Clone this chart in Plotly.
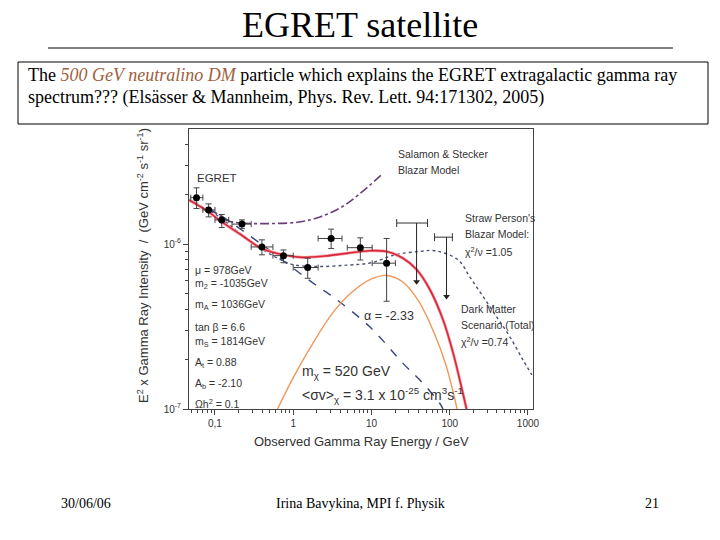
import plotly.graph_objects as go

# ---------------- data ----------------
egret_e = [0.058, 0.083, 0.122, 0.221, 0.398, 0.75, 1.53, 3.05, 7.2, 15.6]
egret_f = [1.91e-6, 1.61e-6, 1.40e-6, 1.32e-6, 0.96e-6, 0.85e-6, 0.72e-6, 1.08e-6, 0.95e-6, 0.765e-6]
egret_f_hi = [2.19e-6, 1.75e-6, 1.51e-6, 1.40e-6, 1.06e-6, 0.92e-6, 0.82e-6, 1.23e-6, 1.09e-6, 1.08e-6]
egret_f_lo = [1.64e-6, 1.46e-6, 1.26e-6, 1.24e-6, 0.86e-6, 0.77e-6, 0.62e-6, 0.94e-6, 0.80e-6, 0.45e-6]
egret_e_lo = [0.049, 0.070, 0.100, 0.165, 0.29, 0.55, 1.0, 2.08, 4.9, 10.2]
egret_e_hi = [0.070, 0.100, 0.150, 0.29, 0.55, 1.0, 2.08, 4.2, 10.2, 20.2]

ul_e = [37.7, 91.0]
ul_top = [1.34e-6, 1.10e-6]
ul_bottom = [0.59e-6, 0.48e-6]
ul_e_lo = [21.0, 64.0]
ul_e_hi = [52.0, 108.0]

total_e = [0.047, 0.082, 0.122, 0.22, 0.394, 0.745, 1.28, 2.54, 5.0, 9.5, 15.6, 25.3, 37.7, 55.7, 82.5, 110.6, 141, 164]
total_f = [1.84e-6, 1.57e-6, 1.36e-6, 1.13e-6, 0.94e-6, 0.86e-6, 0.83e-6, 0.845e-6, 0.88e-6, 0.91e-6, 0.90e-6,
           0.82e-6, 0.70e-6, 0.53e-6, 0.345e-6, 0.218e-6, 0.136e-6, 0.10e-6]

dm_e = [0.63, 1.0, 1.78, 3.16, 5.6, 10.0, 15.8, 25.0, 40.0, 63.0, 89.0, 115.0, 124.0]
dm_f = [0.10e-6, 0.155e-6, 0.25e-6, 0.38e-6, 0.51e-6, 0.615e-6, 0.645e-6, 0.59e-6, 0.45e-6, 0.29e-6,
        0.186e-6, 0.117e-6, 0.10e-6]

bg_e = [0.047, 0.1, 0.4, 1.05, 2.09, 3.0, 9.5, 25.3, 45.5, 74.8, 82]
bg_f = [1.85e-6, 1.56e-6, 0.99e-6, 0.70e-6, 0.55e-6, 0.49e-6, 0.315e-6, 0.189e-6, 0.143e-6, 0.108e-6, 0.10e-6]

ss_e = [0.085, 0.105, 0.15, 0.22, 0.5, 1.2, 2.2, 3.95, 6.76, 14.1]
ss_f = [1.62e-6, 1.53e-6, 1.38e-6, 1.34e-6, 1.33e-6, 1.36e-6, 1.46e-6, 1.65e-6, 1.98e-6, 2.68e-6]

sp_e = [0.047, 0.1, 0.2, 0.4, 0.7, 1.0, 2.0, 5.0, 10, 20, 40, 65, 128, 181, 267, 396, 586, 865, 1120]
sp_f = [1.84e-6, 1.52e-6, 1.18e-6, 0.93e-6, 0.80e-6, 0.75e-6, 0.73e-6, 0.745e-6, 0.77e-6, 0.86e-6, 0.90e-6,
        0.91e-6, 0.80e-6, 0.63e-6, 0.48e-6, 0.363e-6, 0.274e-6, 0.198e-6, 0.161e-6]

x_tickvals = [0.1, 1, 10, 100, 1000]
x_ticktext = ["0,1", "1", "10", "100", "1000"]
y_tickvals = [1e-7, 1e-6]
y_ticktext = ["10<sup>-7</sup>", "10<sup>-6</sup>"]

params = ["\u03bc = 978GeV", "m<sub>2</sub> = -1035GeV", "m<sub>A</sub> = 1036GeV", "tan \u03b2 = 6.6",
          "m<sub>S</sub> = 1814GeV", "A<sub>t</sub> = 0.88", "A<sub>b</sub> = -2.10", "\u03a9h<sup>2</sup> = 0.1"]

# ---------------- layout geometry ----------------
W, H = 720, 540
L, R, T, B = 189, 187, 129, 131
PW, PH = W - L - R, H - T - B


def px(x):
    return (x - L) / PW


def py(y):
    return (H - B - y) / PH


SANS = "Arial, Liberation Sans, sans-serif"
SERIF = "Times New Roman, Liberation Serif, serif"
TXT = "#333333"

fig = go.Figure()

# Salamon & Stecker blazar model
fig.add_trace(go.Scatter(x=ss_e, y=ss_f, mode="lines", line=dict(color="#6b3f7a", width=1.6, dash="dashdot",
                                                                  shape="spline")))
# Straw person's blazar model
fig.add_trace(go.Scatter(x=sp_e, y=sp_f, mode="lines", line=dict(color="#4a5278", width=1.4, dash="dot",
                                                                  shape="spline")))
# background power law
fig.add_trace(go.Scatter(x=bg_e, y=bg_f, mode="lines", line=dict(color="#39467e", width=1.4, dash="dash",
                                                                  shape="spline")))
# DM signal
fig.add_trace(go.Scatter(x=dm_e, y=dm_f, mode="lines", line=dict(color="#f0975a", width=1.4, shape="spline")))
# total
fig.add_trace(go.Scatter(x=total_e, y=total_f, mode="lines", line=dict(color="#f4a0a8", width=3.0, shape="spline")))
fig.add_trace(go.Scatter(x=total_e, y=total_f, mode="lines", line=dict(color="#d8283c", width=1.6, shape="spline")))

# EGRET data
fig.add_trace(go.Scatter(
    x=egret_e, y=egret_f, mode="markers",
    marker=dict(color="black", size=7),
    error_y=dict(type="data", symmetric=False,
                 array=[h - f for h, f in zip(egret_f_hi, egret_f)],
                 arrayminus=[f - l for f, l in zip(egret_f, egret_f_lo)],
                 color="#444444", thickness=1, width=3),
    error_x=dict(type="data", symmetric=False,
                 array=[h - e for h, e in zip(egret_e_hi, egret_e)],
                 arrayminus=[e - l for e, l in zip(egret_e, egret_e_lo)],
                 color="#444444", thickness=1, width=3),
))

# upper limits
fig.add_trace(go.Scatter(
    x=ul_e, y=ul_top, mode="markers", marker=dict(size=1, color="rgba(0,0,0,0)"),
    error_x=dict(type="data", symmetric=False,
                 array=[h - e for h, e in zip(ul_e_hi, ul_e)],
                 arrayminus=[e - l for e, l in zip(ul_e, ul_e_lo)],
                 color="#333333", thickness=1, width=4),
))
for e, t, b in zip(ul_e, ul_top, ul_bottom):
    fig.add_trace(go.Scatter(x=[e, e], y=[t, b], mode="lines", line=dict(color="#222222", width=1)))
fig.add_trace(go.Scatter(x=ul_e, y=ul_bottom, mode="markers",
                         marker=dict(symbol="triangle-down", size=6, color="#222222")))

annotations = []


def ann(text, x, y, size, family=SANS, color=TXT, xanchor="left", yanchor="middle", angle=0):
    annotations.append(dict(text=text, x=px(x), y=py(y), xref="paper", yref="paper", showarrow=False,
                            xanchor=xanchor, yanchor=yanchor, textangle=angle,
                            font=dict(family=family, size=size, color=color)))


# chart texts
ann("Salamon &amp; Stecker", 396, 154, 10.5)
ann("Blazar Model", 396, 170, 10.5)
ann("EGRET", 195, 178, 11.5)
ann("Straw Person's", 463, 218, 10.5)
ann("Blazar Model:", 463, 234, 10.5)
ann("\u03c7<sup>2</sup>/\u03bd =1.05", 463, 251, 10.5)
ann("Dark Matter", 459, 309, 10.5)
ann("Scenario (Total)", 459, 325, 10.5)
ann("\u03c7<sup>2</sup>/\u03bd =0.74", 459, 341, 10.5)
ann("\u03b1 = -2.33", 362, 316, 12.5)
ann("m<sub>\u03c7</sub> = 520 GeV", 300, 372, 14)
ann("&lt;\u03c3v&gt;<sub>\u03c7</sub> = 3.1 x 10<sup>-25</sup> cm<sup>3</sup>s<sup>-1</sup>", 300, 395, 14)
param_y = [269.5, 284, 305, 326.5, 342, 363, 384, 403]
for t, yy in zip(params, param_y):
    ann(t, 193, yy, 10.5)

# axis titles
ann("Observed Gamma Ray Energy / GeV", 361, 441, 13, xanchor="center")
ann("E<sup>2</sup> x Gamma Ray Intensity  /  (GeV cm<sup>-2</sup> s<sup>-1</sup> sr<sup>-1</sup>)", 143, 266, 13,
    xanchor="center", angle=-90)

# slide texts
ann("EGRET satellite", 360, 25, 36, family=SERIF, color="black", xanchor="center")
ann("The <i><span style='color:#a0603c'>500 GeV neutralino DM</span></i> particle which explains the EGRET "
    "extragalactic gamma ray", 26, 75, 18, family=SERIF, color="black")
ann("spectrum??? (Els\u00e4sser &amp; Mannheim, Phys. Rev. Lett. 94:171302, 2005)", 26, 98, 18, family=SERIF,
    color="black")
ann("30/06/06", 86, 503, 14, family=SERIF, color="black", xanchor="center")
ann("Irina Bavykina, MPI f. Physik", 360, 503, 14, family=SERIF, color="black", xanchor="center")
ann("21", 652, 503, 14, family=SERIF, color="black", xanchor="center")

shapes = [
    dict(type="line", xref="paper", yref="paper", x0=px(48), x1=px(673), y0=py(48), y1=py(48),
         line=dict(color="black", width=1)),
    dict(type="rect", xref="paper", yref="paper", x0=px(18), x1=px(708), y0=py(62), y1=py(124),
         line=dict(color="black", width=1)),
]

x_minor = [m * 10 ** d for d in range(-2, 4) for m in range(2, 10)]
y_minor = [m * 10 ** d for d in (-7, -6) for m in range(2, 10)]

fig.update_layout(
    width=W, height=H, margin=dict(l=L, r=R, t=T, b=B, pad=0),
    paper_bgcolor="white", plot_bgcolor="white", showlegend=False, hovermode=False,
    annotations=annotations, shapes=shapes,
    xaxis=dict(type="log", range=[-1.332, 3.064], showgrid=False, zeroline=False,
               showline=True, linecolor="#444444", linewidth=1, mirror=True,
               ticks="outside", ticklen=5, tickcolor="#444444",
               tickmode="array", tickvals=x_tickvals, ticktext=x_ticktext,
               tickfont=dict(family=SANS, size=10, color=TXT),
               minor=dict(ticks="outside", ticklen=3, tickcolor="#444444", tickmode="array", tickvals=x_minor,
                          showgrid=False)),
    yaxis=dict(type="log", range=[-7, -5.303], showgrid=False, zeroline=False,
               showline=True, linecolor="#444444", linewidth=1, mirror=True,
               ticks="outside", ticklen=5, tickcolor="#444444",
               tickmode="array", tickvals=y_tickvals, ticktext=y_ticktext,
               tickfont=dict(family=SANS, size=10, color=TXT),
               minor=dict(ticks="outside", ticklen=3, tickcolor="#444444", tickmode="array", tickvals=y_minor,
                          showgrid=False)),
)

fig.write_html("out.html", config={"displayModeBar": False},
               post_script="document.body.style.margin='0';")
